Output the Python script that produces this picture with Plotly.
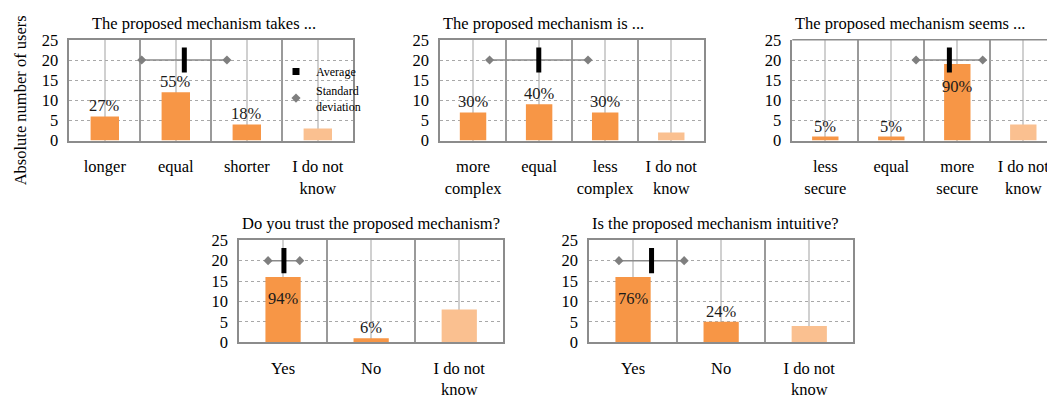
import plotly.graph_objects as go

W, H = 1055, 403

# ---------------- data ----------------
titles = [
    "The proposed mechanism takes ...",
    "The proposed mechanism is ...",
    "The proposed mechanism seems ...",
    "Do you trust the proposed mechanism?",
    "Is the proposed mechanism intuitive?",
]
cats1 = ["longer", "equal", "shorter", "I do not<br>know"]
cats2 = ["more<br>complex", "equal", "less<br>complex", "I do not<br>know"]
cats3 = ["less<br>secure", "equal", "more<br>secure", "I do not<br>know"]
cats4 = ["Yes", "No", "I do not<br>know"]
cats5 = ["Yes", "No", "I do not<br>know"]

vals1 = [6, 12, 4, 3]
vals2 = [7, 9, 7, 2]
vals3 = [1, 1, 19, 4]
vals4 = [16, 1, 8]
vals5 = [16, 5, 4]

pct1 = ["27%", "55%", "18%", ""]
pct2 = ["30%", "40%", "30%", ""]
pct3 = ["5%", "5%", "90%", ""]
pct4 = ["94%", "6%", ""]
pct5 = ["76%", "24%", ""]

# average and standard deviation (category-index scale, 1 = first category)
avgs = [2.12, 1.995, 2.88, 1.01, 1.21]
sds = [0.60, 0.745, 0.505, 0.18, 0.37]
avg_level = 20

y_ticks = [0, 5, 10, 15, 20, 25]

# ---------------- style ----------------
ORANGE = "#F79646"
LIGHT = "#FAC090"
FONT = "Liberation Serif"
FS = 16.5
OFF = 8  # page body margin

# panel boxes in screen pixels: (left, right, top, bottom)
panels = [
    (69.3, 353.3, 32.0, 137.7),
    (440.0, 704.3, 32.0, 137.7),
    (792.3, 1063.0, 32.0, 137.7),
    (239.0, 503.3, 242.3, 349.3),
    (589.0, 853.3, 242.3, 349.3),
]
title_pos = [(90, 15), (441, 15), (793, 15), (240, 225), (590, 225)]

all_cats = [cats1, cats2, cats3, cats4, cats5]
all_vals = [vals1, vals2, vals3, vals4, vals5]
all_pcts = [pct1, pct2, pct3, pct4, pct5]


def px(x):
    return (x - OFF) / W


def py(y):
    return 1 - (y - OFF) / H


fig = go.Figure()
annotations = []

for i in range(5):
    n = len(all_cats[i])
    xs = list(range(1, n + 1))
    vals = all_vals[i]
    colors = [ORANGE] * (n - 1) + [LIGHT]
    ax = "" if i == 0 else str(i + 1)
    xref = "x" + ax
    yref = "y" + ax

    fig.add_trace(go.Bar(
        x=xs, y=vals, width=0.4, marker=dict(color=colors, line=dict(width=0)),
        xaxis=xref, yaxis=yref, showlegend=False, hoverinfo="skip",
    ))
    # standard deviation
    fig.add_trace(go.Scatter(
        x=[avgs[i] - sds[i], avgs[i] + sds[i]], y=[avg_level, avg_level],
        mode="lines+markers",
        line=dict(color="#8a8a8a", width=1.5),
        marker=dict(symbol="diamond", size=7, color="#7f7f7f"),
        xaxis=xref, yaxis=yref, showlegend=False, hoverinfo="skip",
    ))
    # average
    fig.add_trace(go.Scatter(
        x=[avgs[i]], y=[avg_level], mode="markers",
        marker=dict(symbol="line-ns", size=18, line=dict(color="black", width=5)),
        xaxis=xref, yaxis=yref, showlegend=False, hoverinfo="skip",
    ))

    left, right, top, bottom = panels[i]
    x_end = n + 0.5
    if i == 2:
        x_end = 0.5 + (right - left) / 66.0
    xaxis = dict(
        domain=[px(left), min(px(right), 1.0)], range=[0.5, x_end],
        tickvals=xs, ticktext=all_cats[i], ticks="",
        showgrid=True, gridcolor="#d0d0d0", gridwidth=1.5,
        minor=dict(tickvals=[k + 0.5 for k in range(1, n)], showgrid=True,
                   gridcolor="#9a9a9a", gridwidth=1.5, ticks=""),
        showline=True, linecolor="#8c8c8c", linewidth=1.5,
        mirror=True if i != 2 else False,
        zeroline=False, anchor=yref,
        tickfont=dict(family=FONT, size=FS, color="black"),
        ticklabelstandoff=10, fixedrange=True,
    )
    yaxis = dict(
        domain=[py(bottom), py(top)], range=[0, 25], tickvals=y_ticks,
        showgrid=True, gridcolor="#a8a8a8", griddash="dot", gridwidth=1,
        showline=True, linecolor="#8c8c8c", linewidth=1.5,
        mirror=True if i != 2 else False,
        zeroline=False, anchor=xref, ticks="",
        tickfont=dict(family=FONT, size=FS, color="black"),
        ticklabelstandoff=6, fixedrange=True,
    )
    fig.update_layout(**{"xaxis" + ax: xaxis, "yaxis" + ax: yaxis})
    if i == 2:
        fig.add_shape(type="line", xref=xref + " domain", yref=yref + " domain",
                      x0=0, x1=1, y0=1, y1=1,
                      line=dict(color="#8c8c8c", width=1.5))

    # percentage labels
    for x, v, t in zip(xs, vals, all_pcts[i]):
        if not t:
            continue
        inside = v >= 15
        annotations.append(dict(
            x=x, y=v, xref=xref, yref=yref, text=t, showarrow=False,
            yanchor="middle" if inside else "bottom",
            yshift=-22 if inside else -1,
            font=dict(family=FONT, size=FS, color="#1a1a1a"),
        ))

    # title
    tx, ty = title_pos[i]
    annotations.append(dict(
        x=px(tx), y=py(ty), xref="paper", yref="paper", text=titles[i],
        showarrow=False, xanchor="left", yanchor="middle",
        font=dict(family=FONT, size=FS, color="black"),
    ))

# axis title
annotations.append(dict(
    x=px(20.5), y=py(96), xref="paper", yref="paper",
    text="Absolute number of users", textangle=-90, showarrow=False,
    xanchor="center", yanchor="middle",
    font=dict(family=FONT, size=FS, color="black"),
))

# legend entries (panel 1)
fig.add_trace(go.Scatter(
    x=[None], y=[None], mode="markers", name="Average",
    marker=dict(symbol="square", size=7, color="black"),
))
fig.add_trace(go.Scatter(
    x=[None], y=[None], mode="markers", name="Standard<br>deviation",
    marker=dict(symbol="diamond", size=7, color="#7f7f7f"),
))

fig.update_layout(
    width=W, height=H,
    margin=dict(l=0, r=0, t=0, b=0),
    paper_bgcolor="white", plot_bgcolor="white",
    barmode="group",
    annotations=annotations,
    showlegend=True,
    legend=dict(x=px(276), y=py(50), xanchor="left", yanchor="top",
                bgcolor="rgba(0,0,0,0)", font=dict(family=FONT, size=12, color="black"),
                itemwidth=30, tracegroupgap=0),
)

fig.write_html("out.html")
